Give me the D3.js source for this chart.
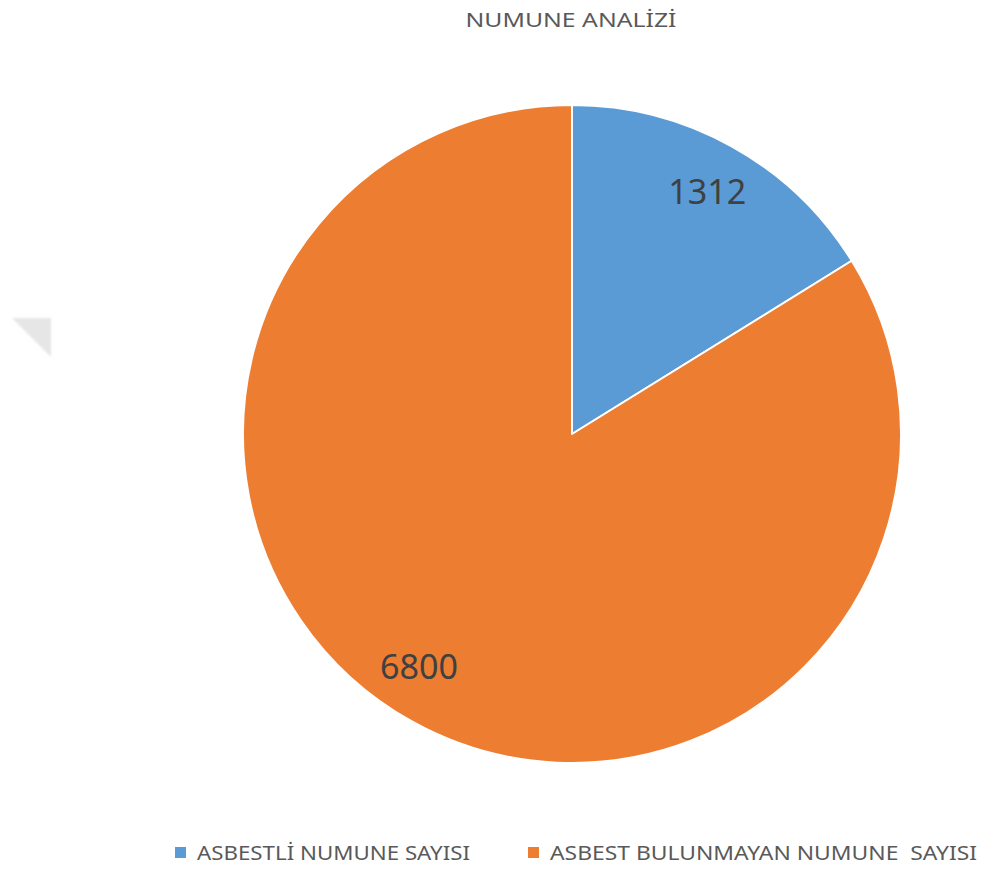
<!DOCTYPE html>
<html>
<head>
<meta charset="utf-8">
<script src="https://cdn.jsdelivr.net/npm/d3@7"></script>
<style>
  html, body { margin: 0; padding: 0; background: #fff; }
  svg { display: block; }
  text { font-family: "Noto Sans", "Open Sans", sans-serif; }
</style>
</head>
<body>
<svg id="chart" width="983" height="870"></svg>
<script>
// Sample analysis: samples with and without asbestos
const categories = ["ASBESTLİ NUMUNE SAYISI", "ASBEST BULUNMAYAN NUMUNE  SAYISI"];
const values = [1312, 6800];
const colors = ["#5b9bd5", "#ed7d31"];
const title = "NUMUNE ANALİZİ";

const svg = d3.select("#chart");
const cx = 572, cy = 434, R = 329;

const defs = svg.append("defs");
defs.append("filter").attr("id", "soft")
  .append("feGaussianBlur").attr("stdDeviation", 1.2);

// faint decorative corner mark on the left
svg.append("path")
  .attr("d", "M12,318 L51,318 L51,357 Z")
  .attr("fill", "#e6e6e6")
  .attr("filter", "url(#soft)");

// title
svg.append("text")
  .attr("x", 571).attr("y", 27)
  .attr("text-anchor", "middle")
  .attr("font-size", 20.5)
  .attr("fill", "#595959")
  .attr("textLength", 211).attr("lengthAdjust", "spacingAndGlyphs")
  .text(title);

const pie = d3.pie().sort(null).value(d => d);
const arcs = pie(values);
const arc = d3.arc().innerRadius(0).outerRadius(R);
const labelArc = d3.arc().innerRadius(R * 0.845).outerRadius(R * 0.845);
// nudge applied to each value label along the circle (radians)
const labelTurn = [0, 0.075];

const g = svg.append("g").attr("transform", `translate(${cx},${cy})`);
g.selectAll("path.slice")
  .data(arcs)
  .join("path")
  .attr("class", "slice")
  .attr("d", arc)
  .attr("fill", (d, i) => colors[i])
  .attr("stroke", "#fff")
  .attr("stroke-width", 2)
  .attr("stroke-linejoin", "round");

g.selectAll("text.val")
  .data(arcs)
  .join("text")
  .attr("class", "val")
  .attr("transform", (d, i) => {
    const s = {startAngle: d.startAngle + labelTurn[i], endAngle: d.endAngle + labelTurn[i]};
    const [x, y] = labelArc.centroid(s);
    return `translate(${x},${y})`;
  })
  .attr("text-anchor", "middle")
  .attr("dominant-baseline", "central")
  .attr("font-size", 34)
  .attr("fill", "#404040")
  .attr("textLength", 78).attr("lengthAdjust", "spacingAndGlyphs")
  .text(d => d.data);

// legend
const legendX = [175, 528];
const legendW = [273, 427];
const lg = svg.append("g");
categories.forEach((c, i) => {
  lg.append("rect")
    .attr("x", legendX[i]).attr("y", 847)
    .attr("width", 11).attr("height", 11)
    .attr("fill", colors[i]);
  lg.append("text")
    .attr("x", legendX[i] + 22).attr("y", 860)
    .attr("font-size", 19)
    .attr("fill", "#595959")
    .attr("xml:space", "preserve")
    .style("white-space", "pre")
    .attr("textLength", legendW[i]).attr("lengthAdjust", "spacingAndGlyphs")
    .text(c);
});
</script>
</body>
</html>
